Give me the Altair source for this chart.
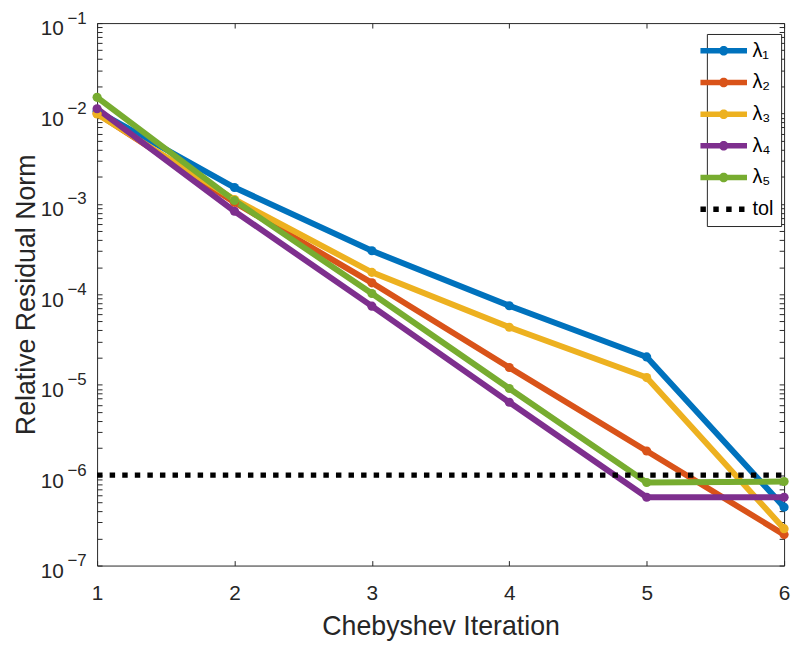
import altair as alt
import pandas as pd

# ---- data ----
iterations = [1, 2, 3, 4, 5, 6]
series_names = ["λ₁", "λ₂", "λ₃", "λ₄", "λ₅"]
lam1 = [1.06e-2, 1.52e-3, 3.03e-4, 7.47e-5, 2.03e-5, 4.43e-7]
lam2 = [1.00e-2, 1.04e-3, 1.34e-4, 1.55e-5, 1.85e-6, 2.20e-7]
lam3 = [0.99e-2, 1.12e-3, 1.75e-4, 4.32e-5, 1.20e-5, 2.56e-7]
lam4 = [1.13e-2, 8.30e-4, 7.40e-5, 6.40e-6, 5.70e-7, 5.70e-7]
lam5 = [1.51e-2, 1.09e-3, 1.02e-4, 9.10e-6, 8.30e-7, 8.50e-7]
tol_label = "tol"
tol_value = 1e-6
colors = ["#0072BD", "#D95319", "#EDB120", "#7E2F8E", "#77AC30", "#000000"]

rows = []
for name, vals in zip(series_names, [lam1, lam2, lam3, lam4, lam5]):
    for it, v in zip(iterations, vals):
        rows.append({"iter": it, "res": v, "series": name})
df = pd.DataFrame(rows)
tol_df = pd.DataFrame({
    "iter": [iterations[0], iterations[-1]],
    "res": [tol_value, tol_value],
    "series": [tol_label, tol_label],
})
legend_df = pd.DataFrame({"series": series_names + [tol_label]})

# ---- scales / ticks ----
majors = [10.0 ** -k for k in range(1, 8)]
minors = [m * 10.0 ** -k for k in range(2, 8) for m in range(2, 10)]
y_ticks = sorted(majors + minors)

x_scale = alt.Scale(domain=[1, 6], nice=False, zero=False)
y_scale = alt.Scale(type="log", domain=[1e-7, 1e-1], nice=False)
domain_all = series_names + [tol_label]
color_scale = alt.Scale(domain=domain_all, range=colors)

lam_path = ("M-2.35,-0.28L2.35,-0.28L2.35,0.28L-2.35,0.28Z "
            "M0.48,0A0.48,0.48,0,1,1,-0.48,0A0.48,0.48,0,1,1,0.48,0Z")
tol_path = ("M-2.35,-0.28L-1.8,-0.28L-1.8,0.28L-2.35,0.28Z "
            "M-1.05,-0.28L-0.5,-0.28L-0.5,0.28L-1.05,0.28Z "
            "M0.25,-0.28L0.8,-0.28L0.8,0.28L0.25,0.28Z "
            "M1.55,-0.28L2.1,-0.28L2.1,0.28L1.55,0.28Z")
shape_scale = alt.Scale(domain=domain_all, range=[lam_path] * 5 + [tol_path])

FONT = "Liberation Sans, Arial, DejaVu Sans, sans-serif"
TXT = "#262626"
is_major = "abs(log(datum.value)/LN10 - round(log(datum.value)/LN10)) < 1e-6"

common = dict(domain=False, grid=False, ticks=True, tickSize=5, offset=-5,
              tickColor=TXT, tickWidth=1, labelFont=FONT, labelColor=TXT,
              labelFlush=False, labelOverlap=False)

y_left_base = alt.Axis(values=y_ticks, labelExpr=f"{is_major} ? '10' : ''",
                       labelFontSize=21, labelPadding=34, labelOffset=6,
                       title="Relative Residual Norm", titleFontSize=27,
                       titleFont=FONT, titleColor=TXT, titleFontWeight="normal",
                       titlePadding=0, orient="left", **common)
y_left_exp = alt.Axis(values=majors,
                      labelExpr=f"{is_major} ? '\u2212' + round(-log(datum.value)/LN10) : ''",
                      labelFontSize=17, labelPadding=11, labelOffset=-5,
                      tickOpacity=0, title=None, orient="left", **common)
y_right = alt.Axis(values=y_ticks, labels=False, title=None, orient="right", **common)
x_bottom = alt.Axis(values=iterations, labelFontSize=21, labelPadding=17,
                    title="Chebyshev Iteration", titleFontSize=27, titleFont=FONT,
                    titleColor=TXT, titleFontWeight="normal", titlePadding=11,
                    orient="bottom", format="d", **common)
x_top = alt.Axis(values=iterations, labels=False, title=None, orient="top", **common)

legend = alt.Legend(orient="none", legendX=616, legendY=11, title=None,
                    fillColor="white", strokeColor=TXT, padding=7,
                    rowPadding=12, symbolSize=400, symbolStrokeWidth=0,
                    labelFontSize=20, labelFont=FONT, labelColor="black",
                    labelOffset=19, symbolOpacity=1,
                    labelExpr="datum.label + '\u2003\u2004'")

base = alt.Chart(df)

lines = base.mark_line(strokeWidth=6, clip=False).encode(
    x=alt.X("iter:Q", scale=x_scale, axis=x_bottom),
    y=alt.Y("res:Q", scale=y_scale, axis=y_left_base),
    color=alt.Color("series:N", scale=color_scale, legend=None),
)

points = base.mark_circle(size=85, opacity=1, clip=False).encode(
    x=alt.X("iter:Q", scale=x_scale, axis=x_top),
    y=alt.Y("res:Q", scale=y_scale, axis=y_left_exp),
    color=alt.Color("series:N", scale=color_scale, legend=None),
)

tol_line = alt.Chart(tol_df).mark_line(
    strokeWidth=5.5, strokeDash=[5.5, 7.2], strokeCap="butt", color="black"
).encode(
    x=alt.X("iter:Q", scale=x_scale, axis=None),
    y=alt.Y("res:Q", scale=y_scale, axis=y_right),
)

legend_layer = alt.Chart(legend_df).mark_point(
    filled=True, opacity=0, size=1
).encode(
    x=alt.value(0),
    y=alt.value(0),
    color=alt.Color("series:N", scale=color_scale, legend=legend),
    shape=alt.Shape("series:N", scale=shape_scale, legend=legend),
)

chart = alt.layer(lines, points, tol_line, legend_layer).resolve_axis(
    x="independent", y="independent"
).resolve_legend(
    color="independent", shape="independent"
).properties(
    width=694, height=548,
    autosize=alt.AutoSizeParams(type="none"),
    padding={"left": 90, "top": 12, "right": 9, "bottom": 77},
    background="white",
).configure_view(stroke=TXT, strokeWidth=1)

chart.save("out.html", embed_options={"renderer": "svg", "actions": False})
